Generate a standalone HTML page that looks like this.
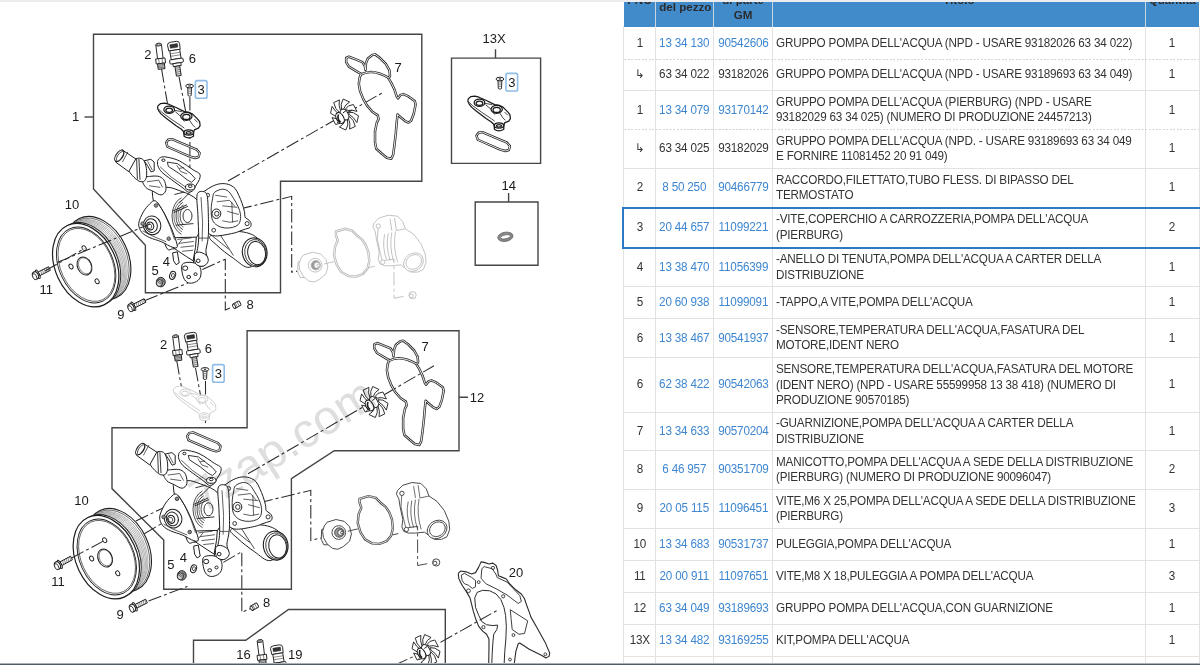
<!DOCTYPE html>
<html><head><meta charset="utf-8"><style>
html,body{margin:0;padding:0;background:#fff;width:1200px;height:665px;overflow:hidden;position:relative;font-family:"Liberation Sans",sans-serif;}
.topbar{position:absolute;left:0;top:0;width:1200px;height:1.5px;background:#ececef;}
.botbar{position:absolute;left:0;top:663px;width:1200px;height:2px;background:linear-gradient(to bottom,#a9b1b6 0,#a9b1b6 1px,#4f5d66 1px);}
.hdr{position:absolute;left:623.6px;top:1.5px;width:575.4999999999999px;height:25.1px;background:#428bca;overflow:hidden;}
.hdr .hv{position:absolute;top:0;height:26px;width:1.2px;background:#c8d6e4;}
.hdr .ht{position:absolute;font-weight:bold;font-size:11.6px;line-height:15.6px;color:#2b2b2b;text-align:center;white-space:nowrap;}
.vl{position:absolute;top:26px;height:640px;width:1px;background:#e2e2e2;}
.hl{position:absolute;left:623.6px;width:575.4999999999999px;height:0;border-top:1px solid #e2e2e2;}
.hl.dot{border-top:0;height:1.2px;margin-top:-0.2px;background:repeating-linear-gradient(90deg,#d6d6d6 0 2px,transparent 2px 3.5px);}
.c{position:absolute;font-size:12.3px;line-height:15.6px;color:#333;white-space:nowrap;letter-spacing:-0.2px;transform:scaleX(0.95);transform-origin:50% 50%;}
.t{transform-origin:0 50%;}
.ctr{text-align:center;}
.a{color:#3e86d0;}
.t{text-align:left;transform-origin:0 50%;}
.sel{position:absolute;left:622.2px;top:207px;width:600px;height:38px;border:2px solid #2f78c4;}
svg.d{position:absolute;left:0;top:0;}
</style></head><body>
<div class="topbar"></div>
<svg class="d" width="620" height="665" viewBox="0 0 620 665">
<defs>
<g id="pump" stroke="#1e1e1e" stroke-width="1" fill="#fff" stroke-linejoin="round">
<path fill="#fff" d="M152.3,192.1 C152.6,182.6 162.1,187.6 166.6,187.3 C171.0,187.1 174.7,188.9 179.2,190.5 C183.7,192.1 189.7,194.2 193.4,196.8 C197.1,199.4 199.7,202.6 201.3,206.3 C202.9,210.0 203.1,214.7 202.9,218.9 C202.6,223.1 201.3,227.9 199.7,231.5 C198.1,235.2 196.0,238.6 193.4,241.0 C190.8,243.4 187.3,244.4 183.9,245.7 C180.5,247.1 176.0,249.2 172.9,248.9 C169.7,248.6 168.4,253.6 165.0,244.2 C161.6,234.7 152.1,201.6 152.3,192.1 Z"/>
<path fill="none" stroke-width="0.8" d="M184.3,224.9 A6.5,9.5 0 0 1 184.3,207.1"/>
<path fill="none" stroke-width="0.6" d="M183.6,227.3 A8.5,12 0 0 1 183.6,204.7"/>
<path fill="none" stroke-width="0.8" d="M182.9,229.6 A10.5,14.5 0 0 1 182.9,202.4"/>
<path fill="none" stroke-width="0.6" d="M182.2,232.0 A12.5,17 0 0 1 182.2,200.0"/>
<path fill="none" stroke-width="0.8" d="M181.5,234.3 A14.5,19.5 0 0 1 181.5,197.7"/>
<ellipse cx="187.5" cy="216.0" rx="4.5" ry="6.5" fill="#fff" stroke-width="0.9"/>
<path fill="none" stroke-width="0.9" d="M172.9,211.0 L187.1,204.7"/>
<path fill="none" stroke-width="0.9" d="M173.7,212.6 L187.9,206.3"/>
<path fill="none" stroke-width="0.9" d="M176.0,225.2 L193.4,223.6"/>
<path fill="none" stroke-width="0.9" d="M174.4,194.5 L183.9,192.1"/>
<path fill="none" stroke-width="0.9" d="M179.2,203.1 L190.2,192.1"/>
<path fill="#fff" d="M167.9,237.9 L196.3,237.1 L195.5,247.3 L193.1,260.8 L186.8,256.8 L177.3,250.5 L171.0,245.8 Z"/>
<path fill="none" stroke-width="0.7" d="M177.3,239.5 L191.6,237.9"/>
<path fill="none" stroke-width="0.7" d="M178.9,243.4 L193.9,241.4"/>
<path fill="none" stroke-width="0.7" d="M180.5,247.3 L193.9,245.8"/>
<path fill="none" stroke-width="0.7" d="M182.1,251.3 L193.1,250.2"/>
<path fill="none" stroke-width="0.7" d="M175.8,247.3 L182.1,239.5"/>
<path fill="#fff" d="M142.1,178.7 C142.9,176.8 147.9,176.6 150.8,176.3 C153.7,176.0 157.1,175.8 159.5,176.6 C161.8,177.5 163.6,179.0 164.7,181.4 C165.7,183.7 166.4,188.2 165.8,190.5 C165.2,192.8 163.1,194.8 161.0,194.9 C158.9,195.1 155.7,192.6 153.1,191.3 C150.6,190.0 147.6,189.5 145.7,187.3 C143.9,185.2 141.2,180.5 142.1,178.7 Z"/>
<path fill="none" stroke-width="0.7" d="M146.8,181.8 L158.7,180.2 L162.6,187.3"/>
<path fill="none" stroke-width="0.7" d="M149.2,185.8 L160.2,187.3"/>
<path fill="#fff" d="M128.7,170.0 C127.9,166.8 131.0,163.3 132.6,161.3 C134.2,159.3 136.3,158.3 138.1,158.2 C140.0,158.0 142.3,158.5 143.7,160.2 C145.0,161.9 145.9,165.6 146.4,168.4 C146.8,171.2 146.8,174.9 146.4,177.1 C145.9,179.2 145.2,180.8 143.7,181.4 C142.2,181.9 139.9,182.1 137.4,180.2 C134.9,178.4 129.5,173.1 128.7,170.0 Z"/>
<path fill="none" stroke-width="0.9" d="M136.6,158.6 L137.4,179.5"/>
<path fill="none" stroke-width="0.9" d="M138.9,158.9 L140.0,179.8"/>
<path fill="#fff" d="M144.1,160.8 L150.8,159.3 L154.2,162.1 L154.2,170.8 L151.1,171.9 L147.3,165.3 Z"/>
<path fill="none" stroke-width="0.7" d="M147.6,161.3 L152.3,170.0"/>
<path fill="#fff" d="M122.0,149.8 L135.8,158.9 L128.7,171.6 L115.7,162.1 Z"/>
<ellipse cx="119.2" cy="155.8" rx="3.16" ry="6.63" transform="rotate(34 119.2 155.8)" fill="#fff" stroke-width="1.1"/>
<ellipse cx="120.2" cy="156.4" rx="2.53" ry="5.68" transform="rotate(34 120.2 156.4)" fill="none" stroke-width="0.7"/>
<path fill="none" stroke-width="0.7" d="M127.9,151.8 L122.4,162.1"/>
<path fill="#fff" d="M157.9,160.2 C158.5,158.7 160.1,157.5 161.8,157.0 C163.5,156.6 165.2,156.7 168.1,157.4 C171.0,158.0 175.0,158.7 179.2,160.8 C183.4,162.9 190.0,167.8 193.4,170.0 C196.8,172.2 198.7,172.4 199.7,173.9 C200.7,175.5 200.0,177.6 199.4,179.5 C198.8,181.3 197.2,183.2 196.2,185.0 C195.2,186.8 194.7,189.0 193.4,190.2 C192.1,191.4 190.0,192.4 188.3,192.1 C186.6,191.7 186.0,190.2 183.1,188.1 C180.3,186.0 174.8,182.1 171.3,179.5 C167.8,176.8 164.3,174.6 162.1,172.4 C159.9,170.1 158.7,168.1 158.0,166.0 C157.3,164.0 157.2,161.7 157.9,160.2 Z"/>
<path fill="#fff" stroke-width="0.9" d="M167.3,162.1 L177.6,163.7 L191.0,173.9 L195.3,178.7 L191.5,182.3 L187.1,179.8 L179.2,173.5 L168.4,166.5 Z"/>
<path fill="none" stroke-width="0.7" d="M176.8,165.3 L180.8,171.6 L187.1,173.9"/>
<path fill="none" stroke-width="0.7" d="M179.2,168.4 L183.9,167.6"/>
<path fill="none" stroke-width="0.7" d="M160.2,166.8 L171.3,177.1 L183.9,185.8 L190.2,190.5"/>
<ellipse cx="190.2" cy="187.0" rx="4.73" ry="3.00" transform="rotate(0 190.2 187.0)" fill="#fff"/>
<ellipse cx="190.2" cy="186.2" rx="1.89" ry="1.26" transform="rotate(0 190.2 186.2)" fill="#fff"/>
<ellipse cx="163.4" cy="160.2" rx="1.58" ry="1.26" transform="rotate(0 163.4 160.2)" fill="#fff"/>
<path fill="#fff" d="M138.7,223.7 C138.9,220.3 141.6,215.1 143.4,211.8 C145.3,208.5 147.8,205.8 149.7,203.9 C151.7,202.1 153.3,200.0 155.3,200.8 C157.2,201.6 159.3,205.1 161.6,208.7 C163.8,212.2 166.6,217.6 168.7,222.1 C170.8,226.6 172.7,231.4 174.2,235.5 C175.6,239.6 177.6,244.6 177.3,246.6 C177.1,248.5 175.2,248.1 172.6,247.3 C170.0,246.6 165.4,243.5 161.6,241.8 C157.8,240.2 153.0,239.1 149.7,237.6 C146.4,236.0 143.7,234.7 141.8,232.4 C140.0,230.0 138.4,227.1 138.7,223.7 Z"/>
<path fill="none" stroke-width="0.7" d="M157.6,202.4 L163.9,212.6 L170.2,226.8 L174.5,239.5"/>
<path fill="none" stroke-width="0.7" d="M142.6,230.8 L151.3,235.5 L166.3,241.8"/>
<ellipse cx="152.1" cy="225.3" rx="8.68" ry="9.47" transform="rotate(-20 152.1 225.3)" fill="#fff" stroke-width="1"/>
<ellipse cx="151.3" cy="225.6" rx="6.00" ry="6.94" transform="rotate(-20 151.3 225.6)" fill="#fff" stroke-width="1"/>
<ellipse cx="150.2" cy="226.0" rx="3.47" ry="4.10" transform="rotate(-20 150.2 226.0)" fill="#fff" stroke-width="1.1"/>
<ellipse cx="149.6" cy="226.4" rx="2.05" ry="2.53" transform="rotate(-20 149.6 226.4)" fill="none" stroke-width="0.7"/>
<ellipse cx="156.0" cy="205.5" rx="1.74" ry="1.74" transform="rotate(0 156.0 205.5)" fill="#fff" stroke-width="0.9"/>
<ellipse cx="156.0" cy="205.5" rx="0.79" ry="0.79" transform="rotate(0 156.0 205.5)" fill="none" stroke-width="0.6"/>
<ellipse cx="142.6" cy="223.7" rx="1.74" ry="1.74" transform="rotate(0 142.6 223.7)" fill="#fff" stroke-width="0.9"/>
<ellipse cx="142.6" cy="223.7" rx="0.79" ry="0.79" transform="rotate(0 142.6 223.7)" fill="none" stroke-width="0.6"/>
<ellipse cx="168.7" cy="238.7" rx="1.74" ry="1.74" transform="rotate(0 168.7 238.7)" fill="#fff" stroke-width="0.9"/>
<ellipse cx="168.7" cy="238.7" rx="0.79" ry="0.79" transform="rotate(0 168.7 238.7)" fill="none" stroke-width="0.6"/>
<path fill="#fff" d="M210.5,235.8 C214.1,233.5 230.4,231.2 238.1,231.5 C245.9,231.8 252.9,234.1 257.1,237.8 C261.3,241.6 264.7,249.0 263.4,253.9 C262.1,258.8 254.2,266.6 249.2,267.3 C244.2,268.1 238.8,262.0 233.4,258.3 C228.0,254.7 220.6,249.0 216.8,245.2 C213.0,241.5 207.0,238.1 210.5,235.8 Z"/>
<path fill="none" stroke-width="0.8" d="M220.8,235.8 L233.4,255.5"/>
<path fill="none" stroke-width="0.8" d="M211.3,235.0 L228.7,249.2"/>
<ellipse cx="254.7" cy="252.3" rx="12.31" ry="14.52" transform="rotate(-10 254.7 252.3)" fill="#fff" stroke-width="1.1"/>
<ellipse cx="255.5" cy="252.7" rx="10.73" ry="13.26" transform="rotate(-10 255.5 252.7)" fill="none" stroke-width="0.8"/>
<ellipse cx="256.6" cy="253.1" rx="8.84" ry="11.68" transform="rotate(-10 256.6 253.1)" fill="#fff" stroke-width="1"/>
<path fill="#fff" d="M198.7,195.5 C199.7,193.2 202.6,192.4 205.0,190.8 C207.4,189.2 210.2,187.2 212.9,186.0 C215.5,184.9 218.1,183.9 220.8,183.7 C223.4,183.4 226.3,183.7 228.7,184.5 C231.0,185.3 233.3,186.6 235.0,188.4 C236.7,190.3 237.7,193.0 238.9,195.5 C240.1,198.0 241.2,200.8 242.1,203.4 C243.0,206.0 243.9,209.0 244.4,211.3 C245.0,213.6 244.5,215.9 245.2,217.3 C246.0,218.7 247.9,218.9 248.9,220.0 C249.8,221.0 250.9,222.4 251.1,223.6 C251.3,224.8 250.9,226.5 250.0,227.4 C249.1,228.3 247.2,228.5 245.7,229.0 C244.2,229.5 242.6,230.0 241.0,230.6 C239.3,231.2 238.1,231.9 235.8,232.6 C233.4,233.3 230.1,233.9 227.1,234.5 C224.1,235.1 220.3,235.8 217.6,235.9 C214.9,236.0 212.7,235.7 211.0,235.0 C209.2,234.3 208.2,233.1 207.0,231.8 C205.9,230.5 204.9,228.9 203.9,227.1 C202.9,225.2 201.8,223.1 201.0,220.8 C200.3,218.4 199.9,215.5 199.5,212.9 C199.1,210.2 198.8,207.9 198.7,205.0 C198.5,202.1 197.6,197.9 198.7,195.5 Z"/>
<path fill="#fff" stroke-width="0.9" d="M214.5,192.4 C216.1,190.8 220.0,189.3 222.3,189.2 C224.7,189.1 226.8,190.0 228.7,191.6 C230.6,193.2 232.1,196.2 233.7,198.7 C235.3,201.2 237.0,203.9 238.1,206.6 C239.3,209.2 240.2,211.8 240.5,214.5 C240.8,217.1 240.5,220.4 239.7,222.3 C238.9,224.3 237.6,225.3 235.8,226.3 C233.9,227.2 231.2,227.9 228.7,228.0 C226.2,228.2 223.1,227.9 220.8,227.1 C218.4,226.3 216.0,224.8 214.5,223.1 C212.9,221.4 212.1,219.6 211.6,216.8 C211.1,214.1 211.1,209.6 211.3,206.6 C211.5,203.5 212.0,201.0 212.6,198.7 C213.1,196.3 212.8,193.9 214.5,192.4 Z"/>
<path fill="none" stroke-width="0.7" d="M215.2,195.2 L227.1,197.1"/>
<path fill="none" stroke-width="0.7" d="M216.8,201.8 L229.5,200.3 L235.0,206.6"/>
<path fill="none" stroke-width="0.7" d="M222.3,205.8 L237.3,207.4"/>
<path fill="none" stroke-width="0.7" d="M227.1,211.3 L238.9,214.5"/>
<path fill="none" stroke-width="0.7" d="M222.3,220.8 L230.2,222.3 L238.1,220.8"/>
<path fill="none" stroke-width="0.7" d="M231.8,201.8 L232.6,222.3"/>
<ellipse cx="216.4" cy="213.7" rx="4.42" ry="4.73" transform="rotate(0 216.4 213.7)" fill="#fff" stroke-width="1"/>
<ellipse cx="216.8" cy="213.7" rx="2.21" ry="2.37" transform="rotate(0 216.8 213.7)" fill="#fff" stroke-width="0.9"/>
<ellipse cx="207.7" cy="195.2" rx="1.89" ry="1.89" transform="rotate(0 207.7 195.2)" fill="#fff" stroke-width="0.9"/>
<ellipse cx="247.1" cy="223.6" rx="2.05" ry="2.05" transform="rotate(0 247.1 223.6)" fill="#fff" stroke-width="0.9"/>
<ellipse cx="213.7" cy="230.2" rx="1.89" ry="1.89" transform="rotate(0 213.7 230.2)" fill="#fff" stroke-width="0.9"/>
<path fill="#fff" d="M197.1,194.7 C198.0,190.9 201.7,191.2 203.4,191.6 C205.1,192.0 206.5,192.0 207.4,197.1 C208.2,202.2 208.3,215.5 208.5,222.3 C208.6,229.2 208.6,233.4 208.1,238.1 C207.7,242.9 206.1,247.3 205.9,250.8 C205.8,254.2 207.5,256.3 207.4,258.6 C207.2,261.0 206.4,263.6 205.0,265.0 C203.5,266.3 200.6,266.8 198.7,266.5 C196.8,266.3 194.3,265.0 193.6,263.4 C193.0,261.8 194.1,259.2 194.7,257.1 C195.3,255.0 196.4,253.9 197.1,250.8 C197.8,247.6 198.5,244.2 198.7,238.1 C198.8,232.1 198.1,221.7 197.9,214.5 C197.6,207.2 196.2,198.5 197.1,194.7 Z"/>
<path fill="none" stroke-width="0.7" d="M201.0,197.1 L202.6,222.3 L202.1,241.3"/>
<path fill="none" stroke-width="0.7" d="M198.7,238.1 L208.1,238.1"/>
<ellipse cx="198.7" cy="260.2" rx="2.21" ry="2.21" transform="rotate(0 198.7 260.2)" fill="#fff" stroke-width="0.9"/>
<path fill="#fff" d="M182.1,264.7 C183.3,262.5 187.3,262.3 190.0,262.3 C192.6,262.3 196.0,263.3 197.9,264.7 C199.7,266.2 200.8,268.7 201.0,271.0 C201.3,273.4 200.8,276.9 199.4,278.9 C198.1,280.9 195.2,282.3 193.1,282.9 C191.0,283.4 188.5,283.3 186.8,282.1 C185.1,280.9 183.7,278.7 182.9,275.8 C182.1,272.9 180.9,266.9 182.1,264.7 Z"/>
<ellipse cx="185.2" cy="268.2" rx="2.53" ry="2.21" transform="rotate(0 185.2 268.2)" fill="#fff"/>
<ellipse cx="188.7" cy="277.0" rx="1.89" ry="1.58" transform="rotate(0 188.7 277.0)" fill="#fff"/>
<ellipse cx="195.5" cy="274.2" rx="1.58" ry="1.42" transform="rotate(0 195.5 274.2)" fill="#fff"/>
<path fill="#fff" d="M194.7,254.5 C195.4,252.6 197.6,252.0 199.4,252.1 C201.3,252.2 204.6,253.9 206.1,255.2 C207.5,256.6 208.3,258.7 208.3,260.3 C208.2,261.9 207.0,263.7 205.8,264.7 C204.5,265.7 202.7,266.5 201.0,266.3 C199.3,266.1 196.6,265.4 195.5,263.4 C194.4,261.5 194.1,256.3 194.7,254.5 Z"/>
<ellipse cx="198.2" cy="260.8" rx="1.89" ry="1.74" transform="rotate(0 198.2 260.8)" fill="#fff"/>
<path fill="#fff" d="M172.6,252.9 L177.3,251.8 L179.2,262.8 L176.1,264.7 L173.6,260.8 Z"/>
<ellipse cx="172.6" cy="275.4" rx="2.84" ry="4.10" transform="rotate(20 172.6 275.4)" fill="#fff" stroke-width="1"/>
<ellipse cx="172.9" cy="275.4" rx="1.42" ry="2.05" transform="rotate(20 172.9 275.4)" fill="#fff" stroke-width="0.8"/>
<ellipse cx="160.8" cy="282.1" rx="4.42" ry="4.73" transform="rotate(0 160.8 282.1)" fill="#9a9a9a" stroke-width="1"/>
<ellipse cx="159.4" cy="283.0" rx="3.16" ry="3.47" transform="rotate(0 159.4 283.0)" fill="#d0d0d0" stroke-width="0.9"/>
<path fill="none" stroke-width="0.6" d="M157.1,281.3 L161.6,284.4"/>
<path fill="none" stroke-width="0.6" d="M158.1,280.2 L162.2,283.3"/>
<path fill="none" stroke-width="0.6" d="M161.6,278.9 L164.4,282.1"/>
</g>
<g id="pulley" stroke="#1e1e1e" fill="#fff">
<ellipse cx="97.70" cy="258.20" rx="30.40" ry="43.70" transform="rotate(-24.9 97.70 258.20)" stroke-width="1.1"/>
<ellipse cx="96.86" cy="258.69" rx="29.60" ry="42.70" transform="rotate(-24.9 96.86 258.69)" stroke-width="0.6" fill="none"/>
<ellipse cx="95.78" cy="259.32" rx="28.90" ry="41.90" transform="rotate(-24.9 95.78 259.32)" stroke-width="0.45" stroke="#666"/>
<ellipse cx="94.55" cy="260.04" rx="28.90" ry="41.90" transform="rotate(-24.9 94.55 260.04)" stroke-width="0.45" stroke="#666"/>
<ellipse cx="93.31" cy="260.76" rx="28.90" ry="41.90" transform="rotate(-24.9 93.31 260.76)" stroke-width="0.45" stroke="#666"/>
<ellipse cx="92.08" cy="261.48" rx="28.90" ry="41.90" transform="rotate(-24.9 92.08 261.48)" stroke-width="0.45" stroke="#666"/>
<ellipse cx="90.84" cy="262.20" rx="28.90" ry="41.90" transform="rotate(-24.9 90.84 262.20)" stroke-width="0.45" stroke="#666"/>
<ellipse cx="89.61" cy="262.92" rx="28.90" ry="41.90" transform="rotate(-24.9 89.61 262.92)" stroke-width="0.45" stroke="#666"/>
<ellipse cx="88.37" cy="263.64" rx="28.90" ry="41.90" transform="rotate(-24.9 88.37 263.64)" stroke-width="0.45" stroke="#666"/>
<ellipse cx="87.50" cy="264.30" rx="30.40" ry="43.70" transform="rotate(-24.9 87.50 264.30)" stroke-width="0.9"/>
<ellipse cx="85.7" cy="265.2" rx="30.4" ry="43.7" transform="rotate(-24.9 85.7 265.2)" stroke-width="1.2"/>
<ellipse cx="86.2" cy="265.2" rx="27.0" ry="39.800000000000004" transform="rotate(-24.9 85.7 265.2)" stroke-width="0.9" fill="none"/>
<ellipse cx="86.5" cy="265.2" rx="25.799999999999997" ry="38.400000000000006" transform="rotate(-24.9 85.7 265.2)" stroke-width="0.6" fill="none"/>
<ellipse cx="84.5" cy="266" rx="7" ry="9.4" transform="rotate(-25 84.5 266)" stroke-width="1"/>
<ellipse cx="85" cy="266" rx="6" ry="8.4" transform="rotate(-25 84.5 266)" stroke-width="0.5" fill="none"/>
<ellipse cx="71.0" cy="266.5" rx="1.9" ry="2.6" transform="rotate(-30 71.0 266.5)" stroke-width="0.9"/>
<ellipse cx="97.1" cy="281.3" rx="1.9" ry="2.6" transform="rotate(-30 97.1 281.3)" stroke-width="0.9"/>
<ellipse cx="84.1" cy="248.2" rx="1.9" ry="2.6" transform="rotate(-30 84.1 248.2)" stroke-width="0.9"/>
</g>
<g id="gasketS" fill="none" stroke-linejoin="round">
<g transform="translate(139.7,62) scale(0.16551)"><path vector-effect="non-scaling-stroke" stroke="#222" stroke-width="2.4" d="M160,488 L172,470 L195,466 L345,530 L362,550 L356,574 L335,580 L300,570 L168,512 Z"/><path vector-effect="non-scaling-stroke" stroke="#fff" stroke-width="0.9" d="M160,488 L172,470 L195,466 L345,530 L362,550 L356,574 L335,580 L300,570 L168,512 Z"/></g>
</g>
<g id="plate" fill="#fff" stroke-linejoin="round"><g transform="translate(139.7,62) scale(0.16551)">
<path vector-effect="non-scaling-stroke" d="M110,265 L125,252 L150,248 L175,255 L220,275 L270,300 L300,305 L320,315 L350,345 L362,360 L365,385 L355,400 L330,410 L325,430 L310,445 L290,450 L270,440 L265,420 L250,405 L220,385 L160,340 L130,315 L115,295 L108,280 Z"/>
<path vector-effect="non-scaling-stroke" fill="none" stroke-width="0.8" d="M115,285 L135,305 L190,345 L250,385 L270,400 M200,290 L255,300 M215,300 L250,330 L270,360 M300,350 L320,380 L335,395 M330,345 L350,365"/>
<ellipse vector-effect="non-scaling-stroke" cx="178" cy="288" rx="32" ry="22"/><ellipse vector-effect="non-scaling-stroke" cx="178" cy="292" rx="20" ry="13"/>
<ellipse vector-effect="non-scaling-stroke" cx="282" cy="328" rx="34" ry="24"/><ellipse vector-effect="non-scaling-stroke" cx="282" cy="332" rx="22" ry="15"/>
<path vector-effect="non-scaling-stroke" d="M268,428 L268,448 Q295,468 325,448 L325,428 Z"/>
<ellipse vector-effect="non-scaling-stroke" cx="296" cy="426" rx="28" ry="16"/><ellipse vector-effect="non-scaling-stroke" cx="296" cy="428" rx="15" ry="8"/>
</g></g>
<g id="screw3" stroke="#222" fill="#fff">
<path stroke-width="0.9" d="M187.6,86.6 L191.6,86.6 L191.2,95.6 Q189.6,96.8 188,95.6 Z"/>
<path stroke-width="0.5" fill="none" d="M187.8,88.4 L191.4,88 M187.8,90.2 L191.4,89.8 M187.9,92 L191.3,91.6 M188,93.8 L191.2,93.4"/>
<ellipse stroke-width="1" cx="189.6" cy="86" rx="3.9" ry="1.8"/>
<path stroke-width="0.7" fill="none" d="M188.4,85.6 L190.8,86.4 M190.6,85.4 L188.6,86.5"/>
</g>
<g id="box3"><rect x="195.4" y="80.6" width="11.6" height="17.6" rx="1.8" fill="#fff" stroke="#8dbce8" stroke-width="1.6"/>
<text x="201.2" y="94.4" font-family="Liberation Sans" font-size="13" text-anchor="middle" fill="#1a1a1a">3</text></g>
<g id="sensor2" stroke="#1e1e1e" fill="#fff" stroke-width="0.9">
<g transform="rotate(-7 160 56)">
<rect x="157.2" y="44.5" width="5.6" height="14.5"/>
<ellipse cx="160" cy="44.5" rx="2.8" ry="1.4"/><ellipse cx="160" cy="44.6" rx="1.6" ry="0.8" stroke-width="0.6"/>
<rect x="155.3" y="58.5" width="9.4" height="5" />
<path stroke-width="0.5" d="M158.3,58.6 V63.4 M161.7,58.6 V63.4"/>
<rect x="156.6" y="63.5" width="6.8" height="5.6" fill="#ddd"/>
<path stroke-width="0.5" d="M156.6,64.8 H163.4 M156.6,66.2 H163.4 M156.6,67.6 H163.4"/>
</g></g>
<g id="sensor6" stroke="#1e1e1e" fill="#fff" stroke-width="0.9">
<g transform="rotate(-9 176 58)">
<path d="M169.6,44 Q170,41.5 173,41.6 L179,41.6 Q182,41.8 181.8,44.5 L181.5,50 L170,50 Z"/>
<path fill="#333" stroke-width="0.5" d="M172,44 L179.5,44 L179.5,47.5 L172,47.5 Z"/>
<rect x="171" y="50" width="10" height="9" />
<path stroke-width="0.5" d="M171,53 H181 M171,55.5 H181"/>
<rect x="169.2" y="59" width="13.6" height="4.2" rx="1"/>
<rect x="172" y="63.2" width="8" height="3" />
<rect x="173.6" y="66.2" width="4.8" height="9.8" fill="#e8e8e8"/>
<path stroke-width="0.5" d="M173.6,68 H178.4 M173.6,70 H178.4 M173.6,72 H178.4 M173.6,74 H178.4"/>
</g></g>
<g id="g7" fill="none" stroke-linejoin="round"><g transform="translate(320,45) scale(0.18041)"><path vector-effect="non-scaling-stroke" stroke="#2a2a2a" stroke-width="2.5" d="M228,160 L210,150 L160,120 L145,95 L145,72 L160,65 L195,78 L235,95 L248,115 L252,138 L255,100 L265,75 L290,55 L305,52 L330,70 L365,105 L385,140 L388,170 L380,185 L395,210 L412,245 L425,285 L432,296 L445,278 L462,272 L490,285 L525,310 L530,330 L520,380 L505,420 L490,430 L470,420 L440,395 L430,385 L425,430 L420,490 L412,560 L405,610 L395,630 L370,625 L340,600 L312,575 L305,540 L305,480 L315,430 L325,410 L320,390 L290,370 L260,335 L240,300 L222,255 L215,215 L220,180 Z"/><path vector-effect="non-scaling-stroke" stroke="#fff" stroke-width="0.9" d="M228,160 L210,150 L160,120 L145,95 L145,72 L160,65 L195,78 L235,95 L248,115 L252,138 L255,100 L265,75 L290,55 L305,52 L330,70 L365,105 L385,140 L388,170 L380,185 L395,210 L412,245 L425,285 L432,296 L445,278 L462,272 L490,285 L525,310 L530,330 L520,380 L505,420 L490,430 L470,420 L440,395 L430,385 L425,430 L420,490 L412,560 L405,610 L395,630 L370,625 L340,600 L312,575 L305,540 L305,480 L315,430 L325,410 L320,390 L290,370 L260,335 L240,300 L222,255 L215,215 L220,180 Z"/><path vector-effect="non-scaling-stroke" stroke="#2a2a2a" stroke-width="2.5" d="M228,163 Q290,128 382,182"/><path vector-effect="non-scaling-stroke" stroke="#fff" stroke-width="0.9" d="M228,163 Q290,128 382,182"/></g></g>
<g id="imp" stroke="#1a1a1a" stroke-width="0.9" fill="#fff" stroke-linejoin="round">
<path d="M339.6,112.6 Q335.1,109.4 333.7,102.6 L339.4,99.9 Q338.3,105.3 340.5,110.5 Z"/>
<path d="M341.6,109.5 Q340.0,104.1 343.2,99.0 L349.6,102.0 Q345.2,104.3 343.7,109.0 Z"/>
<path d="M340.5,116.8 Q335.8,117.7 330.5,113.2 L332.1,106.4 Q335.0,111.8 339.6,114.4 Z"/>
<path d="M345.3,109.3 Q347.5,104.9 353.4,104.5 L356.9,111.4 Q351.7,109.2 347.4,110.7 Z"/>
<path d="M343.7,119.7 Q341.5,124.1 335.6,124.5 L332.1,117.6 Q337.3,119.8 341.6,118.3 Z"/>
<path d="M348.5,112.2 Q353.2,111.3 358.5,115.8 L356.9,122.6 Q354.0,117.2 349.4,114.6 Z"/>
<path d="M347.4,119.5 Q349.0,124.9 345.8,130.0 L339.4,127.0 Q343.8,124.7 345.3,120.0 Z"/>
<path d="M349.4,116.4 Q353.9,119.6 355.3,126.4 L349.6,129.1 Q350.7,123.7 348.5,118.5 Z"/>
<ellipse cx="344.5" cy="114.5" rx="3.6" ry="5.8" transform="rotate(-30 344.5 114.5)" stroke-width="0.9"/>
<path d="M347.4,109.5 L342.9,113.0 L337.1,123.0 L341.6,119.5 Z" stroke-width="0" />
<path fill="none" d="M347.4,109.5 L342.9,113.0 M337.1,123.0 L341.6,119.5" stroke-width="1"/>
<ellipse cx="340.0" cy="118.0" rx="3.6" ry="5.8" transform="rotate(-30 340.0 118.0)" stroke-width="1.1"/>
<path fill="none" stroke-width="1.6" d="M338.5,114.5 Q336.8,119.0 340.5,122.2"/>
</g>
<g id="thermo" fill="#fff" stroke-linejoin="round"><g transform="translate(300,460) scale(0.18038)">
<path vector-effect="non-scaling-stroke" d="M120,385 L150,375 L160,470 L132,470 L118,440 Z"/>
<path vector-effect="non-scaling-stroke" d="M150,345 L200,330 L245,340 L275,370 L285,410 L275,450 L240,480 L210,495 L180,490 L150,465 L130,430 L125,395 L135,365 Z"/>
<circle vector-effect="non-scaling-stroke" cx="215" cy="402" r="38"/><circle vector-effect="non-scaling-stroke" cx="218" cy="402" r="26" fill="#999"/><circle vector-effect="non-scaling-stroke" cx="225" cy="402" r="16" fill="#fff"/><circle vector-effect="non-scaling-stroke" cx="232" cy="402" r="7"/>
<path vector-effect="non-scaling-stroke" fill="none" stroke-width="2.4" d="M330,215 L380,200 L420,210 L450,240 L475,260 L495,290 L510,330 L515,380 L505,420 L480,450 L440,465 L400,462 L360,440 L335,400 L320,350 L325,300 L340,265 L330,235 Z"/>
<path vector-effect="non-scaling-stroke" fill="none" stroke="#fff" stroke-width="0.8" d="M330,215 L380,200 L420,210 L450,240 L475,260 L495,290 L510,330 L515,380 L505,420 L480,450 L440,465 L400,462 L360,440 L335,400 L320,350 L325,300 L340,265 L330,235 Z"/>
<path vector-effect="non-scaling-stroke" d="M540,170 L570,140 L620,125 L670,130 L700,160 L715,200 L760,230 L800,280 L825,340 L830,385 L815,425 L785,440 L745,440 L710,415 L690,400 L640,405 L600,405 L575,395 L565,370 L570,330 L555,260 L548,215 L535,190 Z"/>
<path vector-effect="non-scaling-stroke" fill="none" stroke-width="0.8" d="M565,180 L560,260 L575,330 L590,390 M600,230 Q585,300 610,370 M620,225 Q605,300 630,375 M640,220 Q625,300 650,380 M660,215 Q645,300 672,385 M630,145 L640,210 M655,140 L665,210 L715,200"/>
<ellipse vector-effect="non-scaling-stroke" cx="760" cy="385" rx="58" ry="48" transform="rotate(-35 760 385)"/>
<ellipse vector-effect="non-scaling-stroke" cx="762" cy="385" rx="46" ry="38" transform="rotate(-35 760 385)"/>
<circle vector-effect="non-scaling-stroke" cx="565" cy="185" r="12"/><circle vector-effect="non-scaling-stroke" cx="590" cy="385" r="12"/>
<circle vector-effect="non-scaling-stroke" cx="755" cy="568" r="20"/><circle vector-effect="non-scaling-stroke" cx="748" cy="572" r="11"/>
<path vector-effect="non-scaling-stroke" fill="none" stroke-dasharray="13.5,3,3,3" d="M265,395 L320,382 M512,415 L545,408 M600,375 L652,368 L652,585 L705,575"/>
</g></g>
</defs>
<path fill="none" stroke="#454545" stroke-width="1.4" d="M93.5,34.3 H421.8 V181.2 H280.5 V292.8 H145.4 V245.2 L93.5,189 Z"/>
<path fill="none" stroke="#454545" stroke-width="1.4" d="M84.5,117 H93.5"/>
<path fill="none" stroke="#454545" stroke-width="1.4" d="M451.5,58.1 H540.6 V163.4 H451.5 Z M495.5,49.3 V58.1"/>
<path fill="none" stroke="#454545" stroke-width="1.4" d="M475.2,202 H538 V265.2 H475.2 Z M508.6,193 V202"/>
<path fill="none" stroke="#454545" stroke-width="1.4" d="M247.1,330.7 H459 V450.7 H334.3 L291.4,478.6 V589.2 H163.7 V540 L112,488.6 V427.7 H247.1 Z M459,397.3 H468"/>
<path fill="none" stroke="#454545" stroke-width="1.4" d="M193.5,670 V640.3 H245.8 L288.5,609.5 H445.3 V670"/>
<g id="b11" stroke="#1e1e1e" fill="#fff" stroke-width="1">
<polygon points="40.0,275.5 50.4,270.3 48.6,266.7 38.2,271.9"/>
<line x1="41.8" y1="274.6" x2="40.7" y2="270.7" stroke-width="0.5"/>
<line x1="43.5" y1="273.7" x2="42.5" y2="269.8" stroke-width="0.5"/>
<line x1="45.3" y1="272.8" x2="44.3" y2="268.9" stroke-width="0.5"/>
<line x1="47.1" y1="271.9" x2="46.1" y2="268.0" stroke-width="0.5"/>
<line x1="48.9" y1="271.0" x2="47.8" y2="267.1" stroke-width="0.5"/>
<ellipse cx="37.8" cy="274.3" rx="1.4" ry="4.6" transform="rotate(-26.6 37.8 274.3)"/>
<ellipse cx="35.5" cy="275.5" rx="2.8" ry="3.9" transform="rotate(-26.6 35.5 275.5)" stroke-width="1.1"/>
<ellipse cx="34.2" cy="276.2" rx="1.8" ry="3.3" transform="rotate(-26.6 35.5 275.5)" stroke-width="0.8"/>
</g>
<g id="b9" stroke="#1e1e1e" fill="#fff" stroke-width="1">
<polygon points="135.5,307.5 145.9,302.3 144.1,298.7 133.7,303.9"/>
<line x1="137.3" y1="306.6" x2="136.2" y2="302.7" stroke-width="0.5"/>
<line x1="139.0" y1="305.7" x2="138.0" y2="301.8" stroke-width="0.5"/>
<line x1="140.8" y1="304.8" x2="139.8" y2="300.9" stroke-width="0.5"/>
<line x1="142.6" y1="303.9" x2="141.6" y2="300.0" stroke-width="0.5"/>
<line x1="144.4" y1="303.0" x2="143.3" y2="299.1" stroke-width="0.5"/>
<ellipse cx="133.3" cy="306.3" rx="1.4" ry="4.6" transform="rotate(-26.6 133.3 306.3)"/>
<ellipse cx="131.0" cy="307.5" rx="2.8" ry="3.9" transform="rotate(-26.6 131.0 307.5)" stroke-width="1.1"/>
<ellipse cx="129.7" cy="308.2" rx="1.8" ry="3.3" transform="rotate(-26.6 131.0 307.5)" stroke-width="0.8"/>
</g>
<g id="b11b" stroke="#1e1e1e" fill="#fff" stroke-width="1">
<polygon points="62.0,565.4 72.4,559.8 70.6,556.2 60.1,561.8"/>
<line x1="63.7" y1="564.4" x2="62.5" y2="560.5" stroke-width="0.5"/>
<line x1="65.5" y1="563.5" x2="64.3" y2="559.6" stroke-width="0.5"/>
<line x1="67.3" y1="562.5" x2="66.1" y2="558.6" stroke-width="0.5"/>
<line x1="69.0" y1="561.6" x2="67.8" y2="557.7" stroke-width="0.5"/>
<line x1="70.8" y1="560.7" x2="69.6" y2="556.7" stroke-width="0.5"/>
<ellipse cx="59.8" cy="564.3" rx="1.4" ry="4.6" transform="rotate(-28.2 59.8 564.3)"/>
<ellipse cx="57.5" cy="565.5" rx="2.8" ry="3.9" transform="rotate(-28.2 57.5 565.5)" stroke-width="1.1"/>
<ellipse cx="56.2" cy="566.2" rx="1.8" ry="3.3" transform="rotate(-28.2 57.5 565.5)" stroke-width="0.8"/>
</g>
<g id="b9b" stroke="#1e1e1e" fill="#fff" stroke-width="1">
<polygon points="137.0,608.0 147.4,602.8 145.6,599.2 135.2,604.4"/>
<line x1="138.8" y1="607.1" x2="137.7" y2="603.2" stroke-width="0.5"/>
<line x1="140.5" y1="606.2" x2="139.5" y2="602.3" stroke-width="0.5"/>
<line x1="142.3" y1="605.3" x2="141.3" y2="601.4" stroke-width="0.5"/>
<line x1="144.1" y1="604.4" x2="143.1" y2="600.5" stroke-width="0.5"/>
<line x1="145.9" y1="603.5" x2="144.8" y2="599.6" stroke-width="0.5"/>
<ellipse cx="134.8" cy="606.8" rx="1.4" ry="4.6" transform="rotate(-26.6 134.8 606.8)"/>
<ellipse cx="132.5" cy="608.0" rx="2.8" ry="3.9" transform="rotate(-26.6 132.5 608.0)" stroke-width="1.1"/>
<ellipse cx="131.2" cy="608.7" rx="1.8" ry="3.3" transform="rotate(-26.6 132.5 608.0)" stroke-width="0.8"/>
</g>
<g stroke="#2a2a2a" stroke-linejoin="round"><g transform="translate(455,560) scale(0.15798)">
<path vector-effect="non-scaling-stroke" fill="none" stroke-width="1.1" d="M20,85 L35,70 L70,75 L105,88 L130,80 L150,45 L165,12 L185,15 L215,25 L240,20 L260,35 L270,65 L275,100 L300,110 L325,120 L345,150 L380,185 L420,215 L440,245 L455,290 L470,330 L480,360 L520,430 L570,520 L600,590 L595,610 L575,620 L550,605 L470,565 L410,525 L400,530 L385,580 L372,680 M213,680 L215,560 L215,500 L200,470 L175,450 L150,420 L130,370 L115,320 L105,280 L95,240 L75,205 L45,160 L25,120 L20,85"/>
<path vector-effect="non-scaling-stroke" fill="none" stroke-width="1.0" d="M310,680 L315,580 L322,500 L325,420 L320,350 L310,300 L290,250 L260,215 L220,195 L175,192 L140,205 L125,240 L130,300 L150,350 L170,390 L200,410 L240,415 L270,412 L265,440 L245,470 L240,520 L235,600 L232,680"/>
<path vector-effect="non-scaling-stroke" fill="none" stroke-width="0.9" d="M40,95 L60,85 L105,110 L130,130 L130,170 L110,180 L85,160 L60,150 L45,130 Z M170,55 L185,42 L235,55 L258,88 L268,112 L330,140 L410,225 L420,262 L400,275 L330,222 L260,182 L195,150 L165,115 Z M350,315 L460,385 L440,465 L405,470 L362,440 L355,370 Z"/>
<circle vector-effect="non-scaling-stroke" cx="240" cy="50" r="10" fill="none" stroke-width="0.9"/><circle vector-effect="non-scaling-stroke" cx="150" cy="140" r="9" fill="none" stroke-width="0.9"/><circle vector-effect="non-scaling-stroke" cx="85" cy="195" r="12" fill="none" stroke-width="0.9"/><circle vector-effect="non-scaling-stroke" cx="305" cy="230" r="10" fill="none" stroke-width="0.9"/><circle vector-effect="non-scaling-stroke" cx="180" cy="425" r="10" fill="none" stroke-width="0.9"/><circle vector-effect="non-scaling-stroke" cx="370" cy="475" r="9" fill="none" stroke-width="0.9"/><circle vector-effect="non-scaling-stroke" cx="348" cy="630" r="9" fill="none" stroke-width="0.9"/><circle vector-effect="non-scaling-stroke" cx="572" cy="597" r="9" fill="none" stroke-width="0.9"/></g></g>
<path fill="none" stroke="#2a2a2a" stroke-width="1.05" stroke-dasharray="13.5,3,3,3" d="M161.6,69.2 L168.2,108"/>
<path fill="none" stroke="#2a2a2a" stroke-width="1.05" stroke-dasharray="13.5,3,3,3" d="M179,76.6 L186.5,116"/>
<path fill="none" stroke="#2a2a2a" stroke-width="1.05" stroke-dasharray="13.5,3,3,3" d="M189.9,97 L189.9,188"/>
<path fill="none" stroke="#2a2a2a" stroke-width="1.05" stroke-dasharray="13.5,3,3,3" d="M145,300.6 L188,283"/>
<path fill="none" stroke="#2a2a2a" stroke-width="1.05" stroke-dasharray="13.5,3,3,3" d="M202.3,269.4 L225.3,259.2 L225.3,309.9 L233,306.8"/>
<path fill="none" stroke="#2a2a2a" stroke-width="1.05" stroke-dasharray="13.5,3,3,3" d="M228,181 L382,93"/>
<path fill="none" stroke="#2a2a2a" stroke-width="1.05" stroke-dasharray="13.5,3,3,3" d="M216.6,214.7 L291.7,196.3 L291.7,272.1 L297.1,271.2"/>
<path fill="none" stroke="#2a2a2a" stroke-width="1.05" stroke-dasharray="13.5,3,3,3" d="M176.8,361 L183.4,398"/>
<path fill="none" stroke="#2a2a2a" stroke-width="1.05" stroke-dasharray="13.5,3,3,3" d="M195.5,368 L202.5,406"/>
<path fill="none" stroke="#2a2a2a" stroke-width="1.05" stroke-dasharray="13.5,3,3,3" d="M205.5,381 L205.5,425"/>
<path fill="none" stroke="#2a2a2a" stroke-width="1.05" stroke-dasharray="13.5,3,3,3" d="M135.8,521 L164.3,507.4"/>
<path fill="none" stroke="#2a2a2a" stroke-width="1.05" stroke-dasharray="13.5,3,3,3" d="M144.3,533.7 L162.2,523.2"/>
<path fill="none" stroke="#2a2a2a" stroke-width="1.05" stroke-dasharray="13.5,3,3,3" d="M148.5,601 L187.5,586.4"/>
<path fill="none" stroke="#2a2a2a" stroke-width="1.05" stroke-dasharray="13.5,3,3,3" d="M223.3,562.4 L241.8,551.7 L241.8,612.3 L250,608.8"/>
<path fill="none" stroke="#2a2a2a" stroke-width="1.05" stroke-dasharray="13.5,3,3,3" d="M248,473.8 L434,365.8"/>
<path fill="none" stroke="#2a2a2a" stroke-width="1.05" stroke-dasharray="13.5,3,3,3" d="M237.6,508 L310.8,490.3 L310.8,540.3 L321.6,537.9"/>
<path fill="none" stroke="#2a2a2a" stroke-width="1.05" stroke-dasharray="13.5,3,3,3" d="M395,665 L421.6,652.8"/>
<path fill="none" stroke="#2a2a2a" stroke-width="1.05" stroke-dasharray="13.5,3,3,3" d="M440.4,642.4 L498.7,609.5"/>
<use href="#thermo" transform="translate(-23.6,-267.3)" stroke="#b4b4b4" stroke-width="0.8"/>
<use href="#thermo" stroke="#4a4a4a" stroke-width="1"/>
<use href="#pump"/>
<use href="#pump" transform="translate(21,293.3)"/>
<use href="#gasketS"/>
<use href="#gasketS" transform="translate(21,293.3)"/>
<use href="#gasketS" transform="translate(310.3,-7)"/>
<use href="#pulley"/>
<use href="#pulley" transform="translate(20.6,292)"/>
<path fill="none" stroke="#2a2a2a" stroke-width="1.05" stroke-dasharray="13.5,3,3,3" d="M57,262.6 L150,224"/>
<path fill="none" stroke="#2a2a2a" stroke-width="1.05" stroke-dasharray="13.5,3,3,3" d="M45,271 L84.3,248.6"/>
<path fill="none" stroke="#2a2a2a" stroke-width="1.05" stroke-dasharray="13.5,3,3,3" d="M71.6,558 L104.3,540.6"/>
<use href="#plate" stroke="#1a1a1a" stroke-width="1.25"/>
<use href="#plate" transform="translate(310.3,-7)" stroke="#1a1a1a" stroke-width="1.25"/>
<use href="#plate" transform="translate(15.8,283)" stroke="#c4c4c4" stroke-width="0.8"/>
<use href="#screw3"/>
<use href="#screw3" transform="translate(310.3,-7)"/>
<use href="#screw3" transform="translate(15.4,283.4)"/>
<use href="#sensor2"/>
<use href="#sensor2" transform="translate(16.9,291.6)"/>
<use href="#sensor2" transform="translate(101.4,596.4)"/>
<use href="#sensor6"/>
<use href="#sensor6" transform="translate(16.9,291)"/>
<use href="#sensor6" transform="translate(103,603.5)"/>
<use href="#box3"/>
<use href="#box3" transform="translate(310.6,-7.2)"/>
<use href="#box3" transform="translate(17.2,284)"/>
<use href="#g7"/>
<use href="#g7" transform="translate(28.1,286.3)"/>
<use href="#imp"/>
<use href="#imp" transform="translate(29.5,287.5)"/>
<use href="#imp" transform="translate(81.5,535.5)"/>
<ellipse cx="505.4" cy="236.8" rx="6.4" ry="3.3" transform="rotate(-10 505.4 236.8)" fill="none" stroke="#8a8a8a" stroke-width="2.4"/>
<ellipse cx="505.4" cy="236.8" rx="7.7" ry="4.6" transform="rotate(-10 505.4 236.8)" fill="none" stroke="#444" stroke-width="0.6"/>
<ellipse cx="505.6" cy="236.9" rx="5.0" ry="1.9" transform="rotate(-10 505.4 236.8)" fill="none" stroke="#444" stroke-width="0.6"/>
<g transform="rotate(-30 237.1 304.5)" stroke="#1e1e1e" fill="#fff" stroke-width="0.9"><rect x="233.6" y="302.1" width="7" height="4.8" rx="1"/><ellipse cx="233.6" cy="304.5" rx="1.2" ry="2.4"/><path stroke-width="0.5" d="M236.1,302.1 V306.9 M238.29999999999998,302.1 V306.9"/></g>
<g transform="rotate(-30 254.7 606.5)" stroke="#1e1e1e" fill="#fff" stroke-width="0.9"><rect x="251.2" y="604.1" width="7" height="4.8" rx="1"/><ellipse cx="251.2" cy="606.5" rx="1.2" ry="2.4"/><path stroke-width="0.5" d="M253.7,604.1 V608.9 M255.89999999999998,604.1 V608.9"/></g>
<text x="0" y="0" font-family="Liberation Sans" font-size="48" fill="#dedede" style="mix-blend-mode:multiply" transform="translate(202.8,513.8) rotate(-32)">7zap.com</text>
<text x="75.5" y="121.3" font-family="Liberation Sans" font-size="13" text-anchor="middle" fill="#1a1a1a">1</text>
<text x="147.9" y="59.4" font-family="Liberation Sans" font-size="13" text-anchor="middle" fill="#1a1a1a">2</text>
<text x="192.3" y="63.0" font-family="Liberation Sans" font-size="13" text-anchor="middle" fill="#1a1a1a">6</text>
<text x="398.0" y="71.5" font-family="Liberation Sans" font-size="13" text-anchor="middle" fill="#1a1a1a">7</text>
<text x="494.0" y="42.7" font-family="Liberation Sans" font-size="13" text-anchor="middle" fill="#1a1a1a">13X</text>
<text x="508.7" y="190.0" font-family="Liberation Sans" font-size="13" text-anchor="middle" fill="#1a1a1a">14</text>
<text x="72.1" y="209.4" font-family="Liberation Sans" font-size="13" text-anchor="middle" fill="#1a1a1a">10</text>
<text x="46.3" y="294.3" font-family="Liberation Sans" font-size="13" text-anchor="middle" fill="#1a1a1a">11</text>
<text x="120.9" y="318.9" font-family="Liberation Sans" font-size="13" text-anchor="middle" fill="#1a1a1a">9</text>
<text x="155.0" y="274.7" font-family="Liberation Sans" font-size="13" text-anchor="middle" fill="#1a1a1a">5</text>
<text x="166.3" y="266.3" font-family="Liberation Sans" font-size="13" text-anchor="middle" fill="#1a1a1a">4</text>
<text x="250.0" y="308.5" font-family="Liberation Sans" font-size="13" text-anchor="middle" fill="#1a1a1a">8</text>
<text x="163.6" y="349.0" font-family="Liberation Sans" font-size="13" text-anchor="middle" fill="#1a1a1a">2</text>
<text x="208.3" y="353.3" font-family="Liberation Sans" font-size="13" text-anchor="middle" fill="#1a1a1a">6</text>
<text x="425.0" y="351.0" font-family="Liberation Sans" font-size="13" text-anchor="middle" fill="#1a1a1a">7</text>
<text x="477.0" y="401.7" font-family="Liberation Sans" font-size="13" text-anchor="middle" fill="#1a1a1a">12</text>
<text x="81.5" y="505.4" font-family="Liberation Sans" font-size="13" text-anchor="middle" fill="#1a1a1a">10</text>
<text x="58.0" y="585.5" font-family="Liberation Sans" font-size="13" text-anchor="middle" fill="#1a1a1a">11</text>
<text x="120.2" y="618.8" font-family="Liberation Sans" font-size="13" text-anchor="middle" fill="#1a1a1a">9</text>
<text x="170.8" y="569.1" font-family="Liberation Sans" font-size="13" text-anchor="middle" fill="#1a1a1a">5</text>
<text x="183.3" y="561.8" font-family="Liberation Sans" font-size="13" text-anchor="middle" fill="#1a1a1a">4</text>
<text x="266.5" y="607.0" font-family="Liberation Sans" font-size="13" text-anchor="middle" fill="#1a1a1a">8</text>
<text x="516.0" y="577.0" font-family="Liberation Sans" font-size="13" text-anchor="middle" fill="#1a1a1a">20</text>
<text x="243.5" y="659.4" font-family="Liberation Sans" font-size="13" text-anchor="middle" fill="#1a1a1a">16</text>
<text x="295.3" y="659.4" font-family="Liberation Sans" font-size="13" text-anchor="middle" fill="#1a1a1a">19</text>
</svg>
<div class="hdr">
<div class="ht" style="left:0;width:31.6px;top:-9.9px">PNC</div>
<div class="ht" style="left:31.6px;width:58.5px;top:-17.7px;text-align:left;padding-left:4px">Numero<br>del pezzo</div>
<div class="ht" style="left:90.1px;width:58.8px;top:-25.5px">Numero<br>di parte<br>GM</div>
<div class="ht" style="left:148.9px;width:372.9px;top:-9.9px">Titolo</div>
<div class="ht" style="left:521.8px;width:53.7px;top:-9.9px">Quantit&agrave;</div>
<div class="hv" style="left:31.1px"></div><div class="hv" style="left:89.6px"></div><div class="hv" style="left:148.4px"></div><div class="hv" style="left:521.3px"></div>
</div>
<div class="vl" style="left:623.1px"></div>
<div class="vl" style="left:654.7px"></div>
<div class="vl" style="left:713.2px"></div>
<div class="vl" style="left:772.0px"></div>
<div class="vl" style="left:1144.9px"></div>
<div class="vl" style="left:1198.6px"></div>
<div class="c ctr " style="left:623.6px;width:31.6px;top:35.5px">1</div>
<div class="c ctr a" style="left:655.2px;width:58.5px;top:35.5px">13 34 130</div>
<div class="c ctr a" style="left:713.7px;width:58.8px;top:35.5px">90542606</div>
<div class="c t" style="left:775.7px;top:35.5px">GRUPPO POMPA DELL&#39;ACQUA (NPD - USARE 93182026 63 34 022)</div>
<div class="c ctr " style="left:1145.4px;width:53.7px;top:35.5px">1</div>
<div class="hl dot" style="top:58.7px"></div>
<div class="c ctr " style="left:623.6px;width:31.6px;top:67.4px">&#8627;</div>
<div class="c ctr n" style="left:655.2px;width:58.5px;top:67.4px">63 34 022</div>
<div class="c ctr n" style="left:713.7px;width:58.8px;top:67.4px">93182026</div>
<div class="c t" style="left:775.7px;top:67.4px">GRUPPO POMPA DELL&#39;ACQUA (NPD - USARE 93189693 63 34 049)</div>
<div class="c ctr " style="left:1145.4px;width:53.7px;top:67.4px">1</div>
<div class="hl " style="top:90.3px"></div>
<div class="c ctr " style="left:623.6px;width:31.6px;top:102.5px">1</div>
<div class="c ctr a" style="left:655.2px;width:58.5px;top:102.5px">13 34 079</div>
<div class="c ctr a" style="left:713.7px;width:58.8px;top:102.5px">93170142</div>
<div class="c t" style="left:775.7px;top:94.7px">GRUPPO POMPA DELL&#39;ACQUA (PIERBURG) (NPD - USARE</div>
<div class="c t" style="left:775.7px;top:110.3px">93182029 63 34 025) (NUMERO DI PRODUZIONE 24457213)</div>
<div class="c ctr " style="left:1145.4px;width:53.7px;top:102.5px">1</div>
<div class="hl dot" style="top:128.9px"></div>
<div class="c ctr " style="left:623.6px;width:31.6px;top:141.3px">&#8627;</div>
<div class="c ctr n" style="left:655.2px;width:58.5px;top:141.3px">63 34 025</div>
<div class="c ctr n" style="left:713.7px;width:58.8px;top:141.3px">93182029</div>
<div class="c t" style="left:775.7px;top:133.5px">GRUPPO POMPA DELL&#39;ACQUA (NPD. - USARE 93189693 63 34 049</div>
<div class="c t" style="left:775.7px;top:149.1px">E FORNIRE 11081452 20 91 049)</div>
<div class="c ctr " style="left:1145.4px;width:53.7px;top:141.3px">1</div>
<div class="hl " style="top:167.9px"></div>
<div class="c ctr " style="left:623.6px;width:31.6px;top:180.3px">2</div>
<div class="c ctr a" style="left:655.2px;width:58.5px;top:180.3px">8 50 250</div>
<div class="c ctr a" style="left:713.7px;width:58.8px;top:180.3px">90466779</div>
<div class="c t" style="left:775.7px;top:172.5px">RACCORDO,FILETTATO,TUBO FLESS. DI BIPASSO DEL</div>
<div class="c t" style="left:775.7px;top:188.1px">TERMOSTATO</div>
<div class="c ctr " style="left:1145.4px;width:53.7px;top:180.3px">1</div>
<div class="hl " style="top:207.0px"></div>
<div class="c ctr " style="left:623.6px;width:31.6px;top:220.1px">3</div>
<div class="c ctr a" style="left:655.2px;width:58.5px;top:220.1px">20 44 657</div>
<div class="c ctr a" style="left:713.7px;width:58.8px;top:220.1px">11099221</div>
<div class="c t" style="left:775.7px;top:212.3px">-VITE,COPERCHIO A CARROZZERIA,POMPA DELL&#39;ACQUA</div>
<div class="c t" style="left:775.7px;top:227.9px">(PIERBURG)</div>
<div class="c ctr " style="left:1145.4px;width:53.7px;top:220.1px">2</div>
<div class="hl " style="top:247.5px"></div>
<div class="c ctr " style="left:623.6px;width:31.6px;top:259.7px">4</div>
<div class="c ctr a" style="left:655.2px;width:58.5px;top:259.7px">13 38 470</div>
<div class="c ctr a" style="left:713.7px;width:58.8px;top:259.7px">11056399</div>
<div class="c t" style="left:775.7px;top:251.9px">-ANELLO DI TENUTA,POMPA DELL&#39;ACQUA A CARTER DELLA</div>
<div class="c t" style="left:775.7px;top:267.5px">DISTRIBUZIONE</div>
<div class="c ctr " style="left:1145.4px;width:53.7px;top:259.7px">1</div>
<div class="hl " style="top:286.1px"></div>
<div class="c ctr " style="left:623.6px;width:31.6px;top:294.9px">5</div>
<div class="c ctr a" style="left:655.2px;width:58.5px;top:294.9px">20 60 938</div>
<div class="c ctr a" style="left:713.7px;width:58.8px;top:294.9px">11099091</div>
<div class="c t" style="left:775.7px;top:294.9px">-TAPPO,A VITE,POMPA DELL&#39;ACQUA</div>
<div class="c ctr " style="left:1145.4px;width:53.7px;top:294.9px">1</div>
<div class="hl " style="top:318.0px"></div>
<div class="c ctr " style="left:623.6px;width:31.6px;top:330.5px">6</div>
<div class="c ctr a" style="left:655.2px;width:58.5px;top:330.5px">13 38 467</div>
<div class="c ctr a" style="left:713.7px;width:58.8px;top:330.5px">90541937</div>
<div class="c t" style="left:775.7px;top:322.7px">-SENSORE,TEMPERATURA DELL&#39;ACQUA,FASATURA DEL</div>
<div class="c t" style="left:775.7px;top:338.3px">MOTORE,IDENT NERO</div>
<div class="c ctr " style="left:1145.4px;width:53.7px;top:330.5px">1</div>
<div class="hl " style="top:357.3px"></div>
<div class="c ctr " style="left:623.6px;width:31.6px;top:377.4px">6</div>
<div class="c ctr a" style="left:655.2px;width:58.5px;top:377.4px">62 38 422</div>
<div class="c ctr a" style="left:713.7px;width:58.8px;top:377.4px">90542063</div>
<div class="c t" style="left:775.7px;top:361.9px">SENSORE,TEMPERATURA DELL&#39;ACQUA,FASATURA DEL MOTORE</div>
<div class="c t" style="left:775.7px;top:377.5px">(IDENT NERO) (NPD - USARE 55599958 13 38 418) (NUMERO DI</div>
<div class="c t" style="left:775.7px;top:393.1px">PRODUZIONE 90570185)</div>
<div class="c ctr " style="left:1145.4px;width:53.7px;top:377.4px">1</div>
<div class="hl " style="top:411.8px"></div>
<div class="c ctr " style="left:623.6px;width:31.6px;top:423.9px">7</div>
<div class="c ctr a" style="left:655.2px;width:58.5px;top:423.9px">13 34 633</div>
<div class="c ctr a" style="left:713.7px;width:58.8px;top:423.9px">90570204</div>
<div class="c t" style="left:775.7px;top:416.1px">-GUARNIZIONE,POMPA DELL&#39;ACQUA A CARTER DELLA</div>
<div class="c t" style="left:775.7px;top:431.8px">DISTRIBUZIONE</div>
<div class="c ctr " style="left:1145.4px;width:53.7px;top:423.9px">1</div>
<div class="hl " style="top:450.3px"></div>
<div class="c ctr " style="left:623.6px;width:31.6px;top:462.4px">8</div>
<div class="c ctr a" style="left:655.2px;width:58.5px;top:462.4px">6 46 957</div>
<div class="c ctr a" style="left:713.7px;width:58.8px;top:462.4px">90351709</div>
<div class="c t" style="left:775.7px;top:454.6px">MANICOTTO,POMPA DELL&#39;ACQUA A SEDE DELLA DISTRIBUZIONE</div>
<div class="c t" style="left:775.7px;top:470.2px">(PIERBURG) (NUMERO DI PRODUZIONE 90096047)</div>
<div class="c ctr " style="left:1145.4px;width:53.7px;top:462.4px">2</div>
<div class="hl " style="top:488.7px"></div>
<div class="c ctr " style="left:623.6px;width:31.6px;top:501.3px">9</div>
<div class="c ctr a" style="left:655.2px;width:58.5px;top:501.3px">20 05 115</div>
<div class="c ctr a" style="left:713.7px;width:58.8px;top:501.3px">11096451</div>
<div class="c t" style="left:775.7px;top:493.5px">VITE,M6 X 25,POMPA DELL&#39;ACQUA A SEDE DELLA DISTRIBUZIONE</div>
<div class="c t" style="left:775.7px;top:509.1px">(PIERBURG)</div>
<div class="c ctr " style="left:1145.4px;width:53.7px;top:501.3px">3</div>
<div class="hl " style="top:528.1px"></div>
<div class="c ctr " style="left:623.6px;width:31.6px;top:536.9px">10</div>
<div class="c ctr a" style="left:655.2px;width:58.5px;top:536.9px">13 34 683</div>
<div class="c ctr a" style="left:713.7px;width:58.8px;top:536.9px">90531737</div>
<div class="c t" style="left:775.7px;top:536.9px">PULEGGIA,POMPA DELL&#39;ACQUA</div>
<div class="c ctr " style="left:1145.4px;width:53.7px;top:536.9px">1</div>
<div class="hl " style="top:559.9px"></div>
<div class="c ctr " style="left:623.6px;width:31.6px;top:568.9px">11</div>
<div class="c ctr a" style="left:655.2px;width:58.5px;top:568.9px">20 00 911</div>
<div class="c ctr a" style="left:713.7px;width:58.8px;top:568.9px">11097651</div>
<div class="c t" style="left:775.7px;top:568.9px">VITE,M8 X 18,PULEGGIA A POMPA DELL&#39;ACQUA</div>
<div class="c ctr " style="left:1145.4px;width:53.7px;top:568.9px">3</div>
<div class="hl " style="top:592.0px"></div>
<div class="c ctr " style="left:623.6px;width:31.6px;top:600.9px">12</div>
<div class="c ctr a" style="left:655.2px;width:58.5px;top:600.9px">63 34 049</div>
<div class="c ctr a" style="left:713.7px;width:58.8px;top:600.9px">93189693</div>
<div class="c t" style="left:775.7px;top:600.9px">GRUPPO POMPA DELL&#39;ACQUA,CON GUARNIZIONE</div>
<div class="c ctr " style="left:1145.4px;width:53.7px;top:600.9px">1</div>
<div class="hl " style="top:623.9px"></div>
<div class="c ctr " style="left:623.6px;width:31.6px;top:632.8px">13X</div>
<div class="c ctr a" style="left:655.2px;width:58.5px;top:632.8px">13 34 482</div>
<div class="c ctr a" style="left:713.7px;width:58.8px;top:632.8px">93169255</div>
<div class="c t" style="left:775.7px;top:632.8px">KIT,POMPA DELL&#39;ACQUA</div>
<div class="c ctr " style="left:1145.4px;width:53.7px;top:632.8px">1</div>
<div class="hl " style="top:655.9px"></div>
<div class="c ctr " style="left:623.6px;width:31.6px;top:665.6px"></div>
<div class="c ctr a" style="left:655.2px;width:58.5px;top:665.6px"></div>
<div class="c ctr a" style="left:713.7px;width:58.8px;top:665.6px"></div>
<div class="c ctr " style="left:1145.4px;width:53.7px;top:665.6px"></div>
<div class="hl " style="top:689.5px"></div>
<div class="sel"></div>
<div class="botbar"></div>
</body></html>
